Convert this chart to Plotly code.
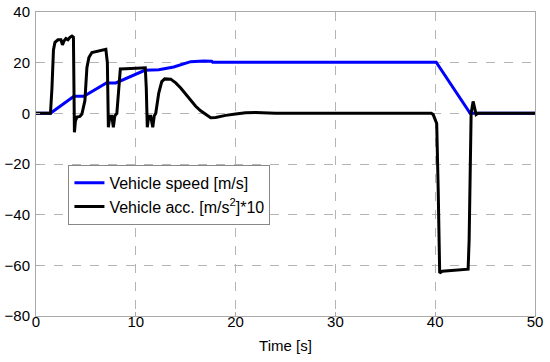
import plotly.graph_objects as go

# Vehicle speed [m/s]
t_speed = [0, 1.45, 3.8, 4.8, 7.05, 8.0, 10.9, 12.3, 13.8, 14.8, 15.5, 16.8, 17.6, 17.7, 40.1, 43.5, 50]
speed = [0, 0, 6.7, 6.7, 12, 12, 17, 17.2, 18.3, 19.6, 20.4, 20.7, 20.6, 20.2, 20.2, 0, 0]

# Vehicle acceleration [m/s^2]*10
t_acc = [0, 1.45, 1.6, 1.75, 1.9, 2.2, 2.5, 2.65, 2.8, 3.0, 3.2, 3.4, 3.6, 3.75, 3.85, 3.95, 4.1, 4.4,
         4.6, 4.9, 5.1, 5.3, 5.6, 6.3, 7.0, 7.15, 7.25, 7.4, 7.6, 7.75, 7.9, 8.1, 8.3, 8.45, 9.0, 10.0,
         10.95, 11.05, 11.15, 11.3, 11.5, 11.7, 11.85, 12.0, 12.3, 12.6, 12.9, 13.5, 14.0, 14.5, 15.0,
         15.5, 16.0, 16.5, 17.0, 17.5, 18.0, 18.5, 19.0, 20.0, 21.0, 22.0, 23.5, 24.0, 39.6, 39.8, 40.0,
         40.15, 40.3, 40.45, 40.7, 42.0, 43.3, 43.4, 43.5, 43.6, 43.8, 43.95, 44.1, 44.3, 50]
acc = [0, 0, 10, 25, 28, 29, 29, 27, 28.5, 29.5, 29, 30, 30.5, 30, -7.5, -3, -1.5, -1.2,
       -0.3, 5, 18, 22, 24, 24.6, 25.3, 20, -5.5, -1.2, -1.2, -5.5, -1, 0, 10, 17.5, 17.6, 17.8,
       18, 10, -5.5, -1.2, -1.2, -5.5, -1, 0, 8, 12.5, 13.6, 13.5, 12, 10, 7.5,
       5, 2.8, 1, -0.5, -1.7, -1.6, -1.2, -0.8, -0.3, 0.2, 0.3, 0.2, 0, 0, -0.5, -2.5,
       -4, -30, -63, -62.3, -62, -61.5, -50, -10, 0, 4.7, 2, -0.5, 0, 0]

x_ticks = [0, 10, 20, 30, 40, 50]
y_ticks = [-80, -60, -40, -20, 0, 20, 40]

fig = go.Figure()
fig.add_trace(go.Scatter(x=t_speed, y=speed, mode="lines", name="Vehicle speed [m/s]",
                         line=dict(color="#0000ff", width=3)))
fig.add_trace(go.Scatter(x=t_acc, y=acc, mode="lines", name="Vehicle acc. [m/s<sup>2</sup>]*10",
                         line=dict(color="#000000", width=3)))

axis_common = dict(
    automargin=False,
    showgrid=True, gridcolor="#b4b4b4", griddash="dash", gridwidth=1,
    showline=True, linecolor="#aaaaaa", linewidth=1, mirror=True,
    ticks="inside", ticklen=4, tickcolor="#aaaaaa",
    zeroline=False, tickfont=dict(size=15, color="black"),
)

fig.update_layout(
    width=550, height=362,
    margin=dict(l=36, r=15, t=12, b=46),
    paper_bgcolor="white", plot_bgcolor="white",
    font=dict(family="Liberation Sans, Arial, sans-serif", size=15, color="black"),
    xaxis=dict(range=[0, 50], tickvals=x_ticks, ticklabelstandoff=-8,
               title=dict(text="Time [s]", font=dict(size=15), standoff=11),
               **axis_common),
    yaxis=dict(range=[-80, 40], tickvals=y_ticks, ticklabelstandoff=2, **axis_common),
    legend=dict(x=0.065, y=0.4975, xanchor="left", yanchor="top",
                bgcolor="white", bordercolor="#888888", borderwidth=1,
                font=dict(size=16), itemwidth=30, tracegroupgap=0),
    showlegend=True,
)

fig.write_html("out.html", config={"displayModeBar": False},
               post_script="document.body.style.margin='0px';")
